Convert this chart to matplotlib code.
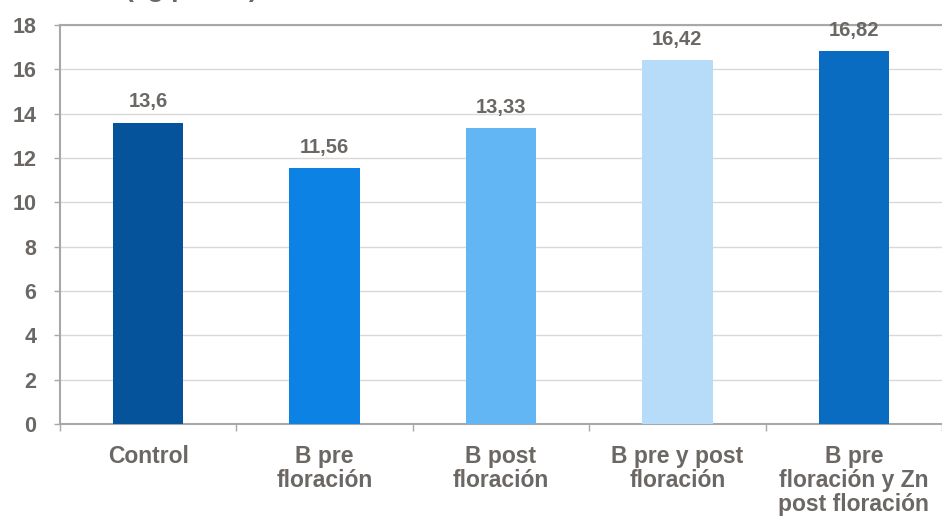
import matplotlib
matplotlib.use("Agg")
import matplotlib.pyplot as plt
from matplotlib.ticker import FixedLocator, NullFormatter

categories = ["Control", "B pre\nfloración", "B post\nfloración",
              "B pre y post\nfloración", "B pre\nfloración y Zn\npost floración"]
values = [13.6, 11.56, 13.33, 16.42, 16.82]
value_labels = ["13,6", "11,56", "13,33", "16,42", "16,82"]
colors = ["#05539A", "#0C82E4", "#62B6F4", "#B6DCFA", "#0A6CC0"]
yticks = [0, 2, 4, 6, 8, 10, 12, 14, 16, 18]
title_fragment = "(kg/planta)"

txt = "#6B6764"
plt.rcParams['font.family'] = ['Liberation Sans', 'DejaVu Sans']

fig = plt.figure(figsize=(9.42, 5.22), dpi=100)
ax = fig.add_axes([0.0637, 0.1877, 0.9363, 0.7645])

x = list(range(len(categories)))
ax.bar(x, values, width=0.4, color=colors, zorder=3)
for xi, v, lab in zip(x, values, value_labels):
    ax.annotate(lab, xy=(xi, v), xytext=(0, 8), textcoords='offset points',
                ha='center', va='bottom', fontsize=14.5,
                fontweight='bold', color=txt, zorder=4)

ax.set_xlim(-0.5, len(categories) - 0.5)
ax.set_ylim(0, 18)
ax.set_yticks(yticks)
ax.set_yticklabels([str(t) for t in yticks], fontsize=15.5, fontweight='bold', color=txt)
ax.yaxis.grid(True, color="#D8D8D8", linewidth=1.0, zorder=0)
ax.set_axisbelow(True)

ax.set_xticks(x)
ax.set_xticklabels(categories, fontsize=16.5, fontweight='bold', color=txt,
                   linespacing=1.07)
ax.tick_params(axis='x', length=0, pad=15)
ax.xaxis.set_minor_locator(FixedLocator([i - 0.5 for i in range(len(categories) + 1)]))
ax.xaxis.set_minor_formatter(NullFormatter())
ax.tick_params(axis='x', which='minor', length=5, color="#A8A8A8", width=1)
ax.tick_params(axis='y', length=4, color="#A8A8A8", width=1, pad=13)

for s in ['left', 'top', 'bottom']:
    ax.spines[s].set_color("#A8A8A8")
    ax.spines[s].set_linewidth(1.5)
ax.spines['right'].set_visible(False)

fig.text(125 / 942, 1.0 + 3 / 522, title_fragment, ha='left', va='baseline',
         fontsize=19, fontweight='bold', color=txt)

fig.savefig("out.png", dpi=100)
